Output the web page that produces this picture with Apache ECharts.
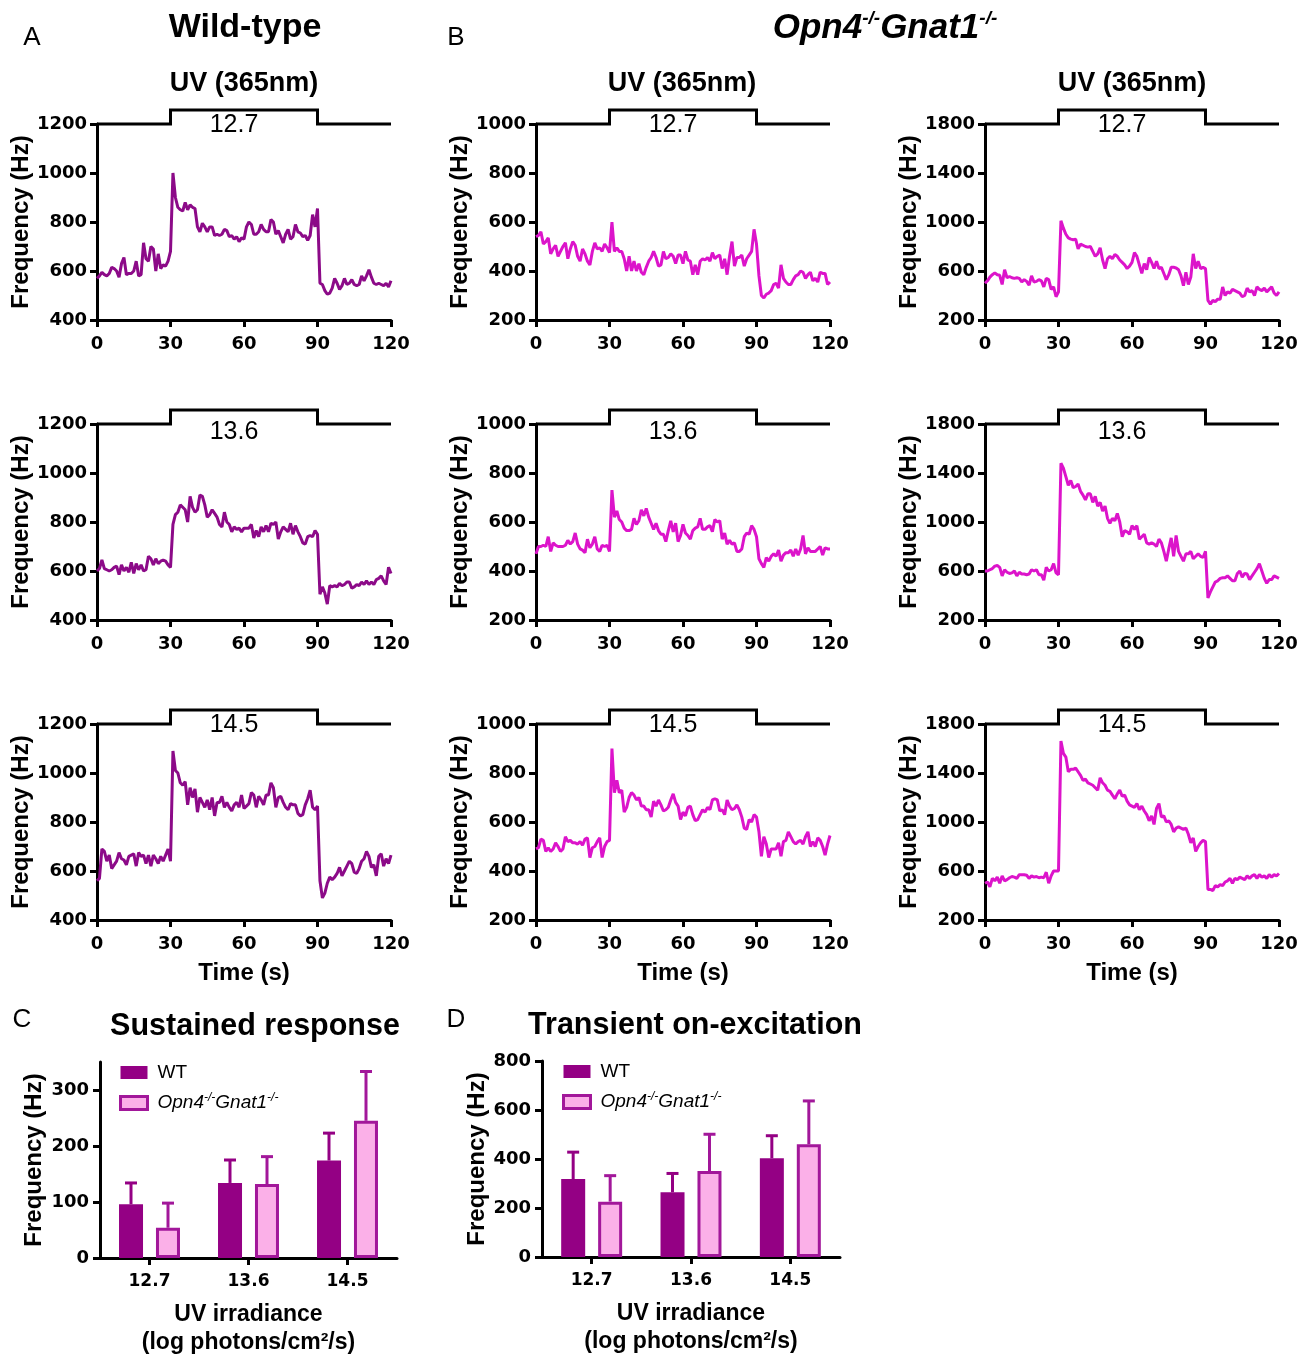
<!DOCTYPE html>
<html><head><meta charset="utf-8">
<script src="https://cdn.jsdelivr.net/npm/echarts@6/dist/echarts.min.js"></script>
<style>html,body{margin:0;padding:0;background:#fff}#c{width:1297px;height:1356px}</style>
</head><body><div id="c"></div>
<script>
// ---------------- DATA ----------------
// time axis: one value per second, t = 0..120 s
const wt127 = [
570,580,595,585,580,590,615,610,600,575,
630,655,585,590,590,600,640,580,585,715,
650,640,700,690,600,670,610,625,620,640,
680,1000,900,860,850,845,880,850,870,860,
855,780,760,795,780,760,780,780,745,750,
745,750,770,765,740,745,730,740,720,735,
730,780,800,790,750,750,760,790,770,760,
760,810,800,750,765,740,715,750,770,730,
740,790,760,755,740,745,725,745,830,780,
855,550,545,520,505,510,530,570,550,525,
540,570,545,550,565,545,540,545,580,560,
580,605,575,550,545,550,545,540,550,535,
560];
const wt136 = [
600,610,645,610,605,600,605,615,620,585,
625,600,615,595,635,590,630,605,625,600,
605,660,650,625,650,630,640,645,640,625,
615,790,830,840,870,860,850,800,905,860,
840,850,910,905,870,820,830,850,835,820,
790,780,840,800,790,760,780,770,775,760,
775,775,775,790,735,765,740,780,760,785,
760,795,790,800,730,760,780,770,760,795,
750,785,760,740,715,710,740,745,740,765,
750,505,535,510,465,540,535,540,535,550,
540,545,555,555,530,535,545,540,555,545,
560,545,555,545,565,570,580,560,545,615,
590];
const wt145 = [
560,570,690,680,640,665,610,625,640,675,
650,645,625,660,665,670,620,675,660,665,
630,665,620,665,650,630,660,640,665,690,
640,1090,1010,1000,960,950,965,870,940,900,
935,840,900,880,860,890,850,900,825,880,
880,905,860,880,860,845,870,880,860,910,
855,865,875,920,910,860,905,890,870,910,
910,960,940,860,900,905,880,860,850,875,
870,870,835,825,830,870,895,930,860,850,
865,560,490,510,550,575,565,575,590,615,
580,600,620,640,630,595,590,610,640,650,
680,660,615,625,580,660,670,620,650,630,
665];
const koA127 = [
540,545,560,510,520,535,470,490,505,460,
480,500,515,450,490,520,505,460,440,490,
470,440,425,480,515,490,495,480,510,495,
475,600,480,495,480,480,450,400,460,400,
440,400,430,395,385,415,440,455,480,455,
420,425,480,450,455,470,460,430,465,465,
430,480,445,440,385,425,385,440,450,445,
455,440,475,450,460,465,410,450,385,460,
520,420,455,455,465,420,450,465,480,570,
510,380,300,290,305,310,320,345,350,330,
425,370,355,345,345,365,380,385,400,395,
370,385,395,360,370,355,395,390,390,345,
355];
const koA136 = [
470,500,500,505,500,540,480,515,505,500,
500,500,505,525,510,520,555,510,490,485,
475,530,495,510,540,490,480,505,500,505,
480,730,620,645,610,600,575,565,565,570,
615,590,605,650,625,655,620,595,570,595,
565,550,550,520,565,605,560,595,520,545,
590,555,545,530,565,575,580,615,570,570,
580,585,560,610,600,605,530,555,510,525,
510,515,480,480,490,540,555,550,585,570,
540,450,430,415,455,440,460,470,460,485,
440,465,475,475,485,460,490,465,490,545,
470,495,480,480,480,490,500,465,495,490,
490];
const koA145 = [
490,495,530,525,480,495,480,490,515,500,
480,490,540,520,525,515,515,510,520,505,
530,535,455,495,500,520,535,455,500,520,
525,900,720,770,720,730,640,660,700,720,
710,690,700,665,665,650,650,620,685,665,
690,670,645,650,660,690,715,680,665,610,
640,625,660,665,630,605,610,630,650,640,
660,650,690,695,690,645,650,630,690,665,
650,655,670,650,620,575,570,610,600,630,
620,560,460,540,510,455,490,490,490,515,
460,520,525,560,540,520,510,520,525,510,
540,560,500,520,500,535,525,500,465,510,
545];
const koB127 = [
500,520,550,570,585,570,565,490,610,545,
555,545,540,545,540,510,530,515,485,560,
510,515,530,520,470,540,530,450,470,390,
430,1010,950,900,870,860,855,860,780,820,
810,800,795,800,760,720,740,790,690,620,
700,720,700,735,720,690,670,650,620,640,
670,750,720,650,580,660,610,710,670,620,
680,620,630,580,530,570,630,630,625,610,
560,480,590,490,550,740,620,680,620,630,
620,360,330,360,350,370,370,470,400,430,
420,450,440,430,420,390,400,460,430,440,
400,470,450,440,460,430,450,470,420,400,
430];
const koB136 = [
600,600,610,620,640,645,630,560,610,590,
580,585,600,560,590,575,575,570,575,610,
600,610,570,570,525,630,600,610,660,585,
570,1480,1440,1370,1300,1340,1280,1290,1310,1250,
1220,1180,1230,1230,1160,1210,1130,1160,1090,1130,
1030,990,1030,1010,1070,1000,880,930,920,900,
970,940,970,860,880,900,830,820,830,820,
800,860,830,760,680,780,870,720,890,760,
720,680,740,740,760,700,720,740,720,710,
760,380,430,470,510,520,540,545,545,560,
540,520,520,580,600,550,580,575,530,560,
590,620,660,600,540,500,530,530,560,550,
540];
const koB145 = [
500,510,470,540,520,550,500,560,520,530,
545,555,550,540,570,570,570,565,540,560,
550,555,545,550,545,590,500,560,600,600,
600,1660,1560,1530,1410,1430,1430,1440,1410,1380,
1340,1350,1320,1310,1300,1280,1260,1360,1320,1300,
1260,1250,1220,1190,1230,1260,1210,1220,1170,1140,
1130,1120,1150,1100,1130,1090,1060,1010,1050,980,
1110,1150,1040,1050,1000,1010,980,920,950,960,
950,940,950,900,830,870,760,800,830,850,
840,450,450,440,480,470,490,480,510,520,
540,500,540,530,550,540,530,560,540,560,
570,540,570,550,560,540,570,550,570,560,
580];

const stimulusTime  = [0, 30, 30, 90, 90, 120];
const stimulusLevel = [0, 0, 1, 1, 0, 0];
const irradianceLabels = ['12.7', '13.6', '14.5'];
const timeTicks = [0, 30, 60, 90, 120];
const sustainedTicks = [0, 100, 200, 300];
const transientTicks = [0, 200, 400, 600, 800];

const sustainedWT    = [96, 134, 174];
const sustainedWTsem = [38, 41, 49];
const sustainedKO    = [54, 132, 245];
const sustainedKOsem = [44, 49, 88];

const transientWT    = [318, 264, 403];
const transientWTsem = [110, 77, 92];
const transientKO    = [226, 351, 460];
const transientKOsem = [106, 150, 177];

// ---------------- STYLE / LAYOUT ----------------
const ARIAL = 'Arial, "Liberation Sans", Helvetica, sans-serif';
const TICKF = '"DejaVu Sans", Verdana, sans-serif';
const WT_LINE = '#8C0A88';
const KO_LINE = '#DC14CA';
const WT_BAR = '#940084';
const KO_FILL = '#FBB0E8';
const KO_EDGE = '#A2179A';

const colLeft = [97, 536, 985];
const rowTop = [124, 424, 724];
const PW = 294, PH = 196, STEP = 14;
const labelOffsetY = [1, 8, 1];

const panels = [
  {d: wt127, c: 0, r: 0, lo: 400, hi: 1200, iv: 200, col: WT_LINE},
  {d: wt136, c: 0, r: 1, lo: 400, hi: 1200, iv: 200, col: WT_LINE},
  {d: wt145, c: 0, r: 2, lo: 400, hi: 1200, iv: 200, col: WT_LINE},
  {d: koA127, c: 1, r: 0, lo: 200, hi: 1000, iv: 200, col: KO_LINE},
  {d: koA136, c: 1, r: 1, lo: 200, hi: 1000, iv: 200, col: KO_LINE},
  {d: koA145, c: 1, r: 2, lo: 200, hi: 1000, iv: 200, col: KO_LINE},
  {d: koB127, c: 2, r: 0, lo: 200, hi: 1800, iv: 400, col: KO_LINE},
  {d: koB136, c: 2, r: 1, lo: 200, hi: 1800, iv: 400, col: KO_LINE},
  {d: koB145, c: 2, r: 2, lo: 200, hi: 1800, iv: 400, col: KO_LINE}
];

const axisLineS = {show: true, onZero: false, lineStyle: {color: '#000', width: 3}};
const axisTickS = {show: true, length: 7, lineStyle: {color: '#000', width: 3}};
const tickLabel = (m) => ({color: '#000', fontFamily: TICKF, fontWeight: 'bold', fontSize: 18, margin: m,
  formatter: (v) => String(v)});
const nameStyle = {color: '#000', fontFamily: ARIAL, fontWeight: 'bold', fontSize: 24};

const grids = [], xAxes = [], yAxes = [], series = [], graphics = [];

panels.forEach((p) => {
  const left = colLeft[p.c], top = rowTop[p.r];
  const gi = grids.length;
  grids.push({left: left, top: top, width: PW, height: PH, outerBoundsMode: 'none', containLabel: false});
  grids.push({left: left, top: top - STEP, width: PW, height: STEP, outerBoundsMode: 'none', containLabel: false});
  xAxes.push({
    gridIndex: gi, type: 'value', min: 0, max: 120, interval: 30,
    axisLine: axisLineS,
    axisTick: Object.assign({customValues: timeTicks}, axisTickS),
    axisLabel: Object.assign(tickLabel(15), {customValues: timeTicks}),
    splitLine: {show: false},
    name: p.r === 2 ? 'Time (s)' : '', nameLocation: 'middle', nameGap: 41, nameTextStyle: nameStyle
  });
  xAxes.push({gridIndex: gi + 1, type: 'value', min: 0, max: 120, show: false});
  yAxes.push({
    gridIndex: gi, type: 'value', min: p.lo, max: p.hi, interval: p.iv,
    axisLine: axisLineS, axisTick: axisTickS, axisLabel: tickLabel(10), splitLine: {show: false},
    name: 'Frequency (Hz)', nameLocation: 'middle', nameGap: 55, nameRotate: 90, nameTextStyle: nameStyle
  });
  yAxes.push({gridIndex: gi + 1, type: 'value', min: 0, max: 1, show: false});
  series.push({
    type: 'line', xAxisIndex: gi, yAxisIndex: gi, showSymbol: false, symbol: 'none',
    data: p.d.map((v, t) => [t, v]), lineStyle: {color: p.col, width: 3}, z: 3, silent: true
  });
  series.push({
    type: 'line', xAxisIndex: gi + 1, yAxisIndex: gi + 1, symbol: 'none', clip: false,
    data: stimulusTime.map((t, k) => [t, stimulusLevel[k]]),
    lineStyle: {color: '#000', width: 3, join: 'miter'}, z: 2, silent: true
  });
  graphics.push({
    type: 'text', x: left + 137, y: top + labelOffsetY[p.r],
    style: {text: irradianceLabels[p.r], font: '25px ' + ARIAL, fill: '#000', align: 'center', verticalAlign: 'middle'}
  });
});

// ---------- bar charts ----------
const barDefs = [
  {left: 100, top: 1062, width: 297, height: 196, max: 350, iv: 100, ticks: sustainedTicks,
   wt: sustainedWT, wts: sustainedWTsem, ko: sustainedKO, kos: sustainedKOsem, nameGap: 54},
  {left: 542, top: 1061, width: 298, height: 196, max: 800, iv: 200, ticks: transientTicks,
   wt: transientWT, wts: transientWTsem, ko: transientKO, kos: transientKOsem, nameGap: 50}
];
const BAR_OFF = 18.5;
function errRender(offset, color) {
  return function (params, api) {
    const base = api.coord([api.value(0), api.value(1)]);
    const tip = api.coord([api.value(0), api.value(2)]);
    const x = base[0] + offset;
    const st = {stroke: color, lineWidth: 3};
    return {type: 'group', children: [
      {type: 'line', shape: {x1: x, y1: base[1], x2: x, y2: tip[1]}, style: st},
      {type: 'line', shape: {x1: x - 6, y1: tip[1], x2: x + 6, y2: tip[1]}, style: st}
    ]};
  };
}
barDefs.forEach((b) => {
  const gi = grids.length;
  grids.push({left: b.left, top: b.top, width: b.width, height: b.height, outerBoundsMode: 'none', containLabel: false});
  xAxes.push({
    gridIndex: gi, type: 'category', data: irradianceLabels,
    axisLine: axisLineS, axisTick: Object.assign({alignWithLabel: true}, axisTickS),
    axisLabel: Object.assign(tickLabel(15), {fontSize: 17}),
    name: 'UV irradiance\n(log photons/cm²/s)', nameLocation: 'middle', nameGap: 43,
    nameTextStyle: Object.assign({}, nameStyle, {fontSize: 23, lineHeight: 28})
  });
  yAxes.push({
    gridIndex: gi, type: 'value', min: 0, max: b.max, interval: b.iv,
    axisLine: axisLineS,
    axisTick: Object.assign({customValues: b.ticks}, axisTickS),
    axisLabel: Object.assign(tickLabel(11), {customValues: b.ticks}),
    splitLine: {show: false},
    name: 'Frequency (Hz)', nameLocation: 'middle', nameGap: b.nameGap, nameRotate: 90, nameTextStyle: nameStyle
  });
  series.push({
    name: 'WT', type: 'bar', xAxisIndex: gi, yAxisIndex: gi, data: b.wt, barWidth: 24, barGap: '54%',
    itemStyle: {color: WT_BAR}, z: 2
  });
  series.push({
    name: 'KO', type: 'bar', xAxisIndex: gi, yAxisIndex: gi, data: b.ko, barWidth: 24, barGap: '54%',
    itemStyle: {color: KO_FILL, borderColor: KO_EDGE, borderWidth: 3}, z: 2
  });
  series.push({
    name: 'errWT', type: 'custom', xAxisIndex: gi, yAxisIndex: gi, z: 3,
    data: b.wt.map((v, i) => [i, v, v + b.wts[i]]), renderItem: errRender(-BAR_OFF, WT_BAR)
  });
  series.push({
    name: 'errKO', type: 'custom', xAxisIndex: gi, yAxisIndex: gi, z: 3,
    data: b.ko.map((v, i) => [i, v, v + b.kos[i]]), renderItem: errRender(BAR_OFF, KO_EDGE)
  });
});

const legendRich = {
  n: {fontFamily: ARIAL, fontSize: 19, lineHeight: 22, color: '#000', padding: [0, 0, 0, 5]},
  p: {fontFamily: ARIAL, fontSize: 19, lineHeight: 22, color: '#000', fontStyle: 'italic', padding: [0, 0, 0, 5]},
  i: {fontFamily: ARIAL, fontSize: 19, lineHeight: 22, color: '#000', fontStyle: 'italic'},
  s: {fontFamily: ARIAL, fontSize: 12, lineHeight: 22, color: '#000', fontStyle: 'italic', verticalAlign: 'top'}
};
const legendFmt = (name) => name === 'WT' ? '{n|WT}' : '{p|Opn4}{s|-/-}{i|Gnat1}{s|-/-}';
const legendData = ['WT', {name: 'KO', itemStyle: {color: KO_FILL, borderColor: KO_EDGE, borderWidth: 3}}];
const legends = [
  {left: 114, top: 1058, orient: 'vertical', icon: 'rect', itemWidth: 27, itemHeight: 13, itemGap: 10,
   data: legendData, formatter: legendFmt, selectedMode: false, textStyle: {rich: legendRich}},
  {left: 557, top: 1057, orient: 'vertical', icon: 'rect', itemWidth: 27, itemHeight: 13, itemGap: 10,
   data: legendData, formatter: legendFmt, selectedMode: false, textStyle: {rich: legendRich}}
];

// ---------- texts ----------
function txt(x, y, text, font) {
  return {type: 'text', x: x, y: y, style: {text: text, font: font, fill: '#000', align: 'center', verticalAlign: 'middle'}};
}
graphics.push(txt(32, 38, 'A', '26px ' + ARIAL));
graphics.push(txt(456, 38, 'B', '26px ' + ARIAL));
graphics.push(txt(22, 1020, 'C', '26px ' + ARIAL));
graphics.push(txt(456, 1020, 'D', '26px ' + ARIAL));
graphics.push(txt(245, 28, 'Wild-type', 'bold 34px ' + ARIAL));
graphics.push({
  type: 'text', x: 885, y: 28,
  style: {
    text: '{a|Opn4}{s|-/-}{a|Gnat1}{s|-/-}', align: 'center', verticalAlign: 'middle',
    rich: {
      a: {fontFamily: ARIAL, fontWeight: 'bold', fontStyle: 'italic', fontSize: 35, lineHeight: 38, fill: '#000'},
      s: {fontFamily: ARIAL, fontWeight: 'bold', fontStyle: 'italic', fontSize: 19, lineHeight: 38, fill: '#000', verticalAlign: 'top'}
    }
  }
});
[244, 682, 1132].forEach((x) => graphics.push(txt(x, 84, 'UV (365nm)', 'bold 27px ' + ARIAL)));
graphics.push(txt(255, 1027, 'Sustained response', 'bold 30.5px ' + ARIAL));
graphics.push(txt(695, 1026, 'Transient on-excitation', 'bold 30.5px ' + ARIAL));

const chart = echarts.init(document.getElementById('c'));
chart.setOption({
  animation: false,
  backgroundColor: '#fff',
  grid: grids, xAxis: xAxes, yAxis: yAxes, series: series,
  legend: legends, graphic: graphics
});
</script></body></html>
